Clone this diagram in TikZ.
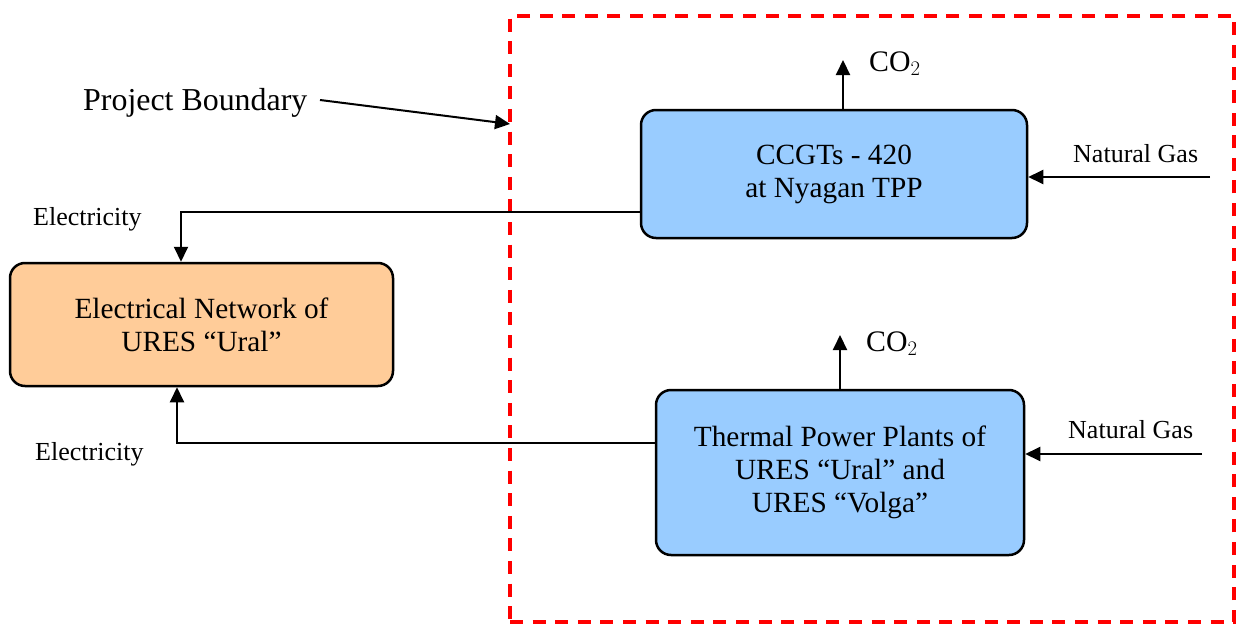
\documentclass[tikz,border=0pt]{standalone}
\usepackage{fontspec}
\setmainfont{Liberation Serif}
\usetikzlibrary{arrows.meta}
\begin{document}
\begin{tikzpicture}[x=1pt,y=-1pt,
  box/.style={draw=black,line width=2.5pt,rounded corners=15pt,align=center,
    font=\fontsize{29.3}{33}\selectfont,inner sep=0pt},
  blue box/.style={box,fill=bluefill},
  orange box/.style={box,fill=orangefill},
  conn/.style={line width=2pt,-{Triangle[length=15pt,width=14pt]}},
  lbl/.style={font=\fontsize{26}{30}\selectfont,inner sep=0pt},
  biglbl/.style={font=\fontsize{29.8}{33}\selectfont,inner sep=0pt},
  pblbl/.style={font=\fontsize{31.9}{35}\selectfont,inner sep=0pt},
  boundary/.style={draw=red,line width=4pt,dash pattern=on 13pt off 9.6pt}]
\definecolor{bluefill}{RGB}{153,204,255}
\definecolor{orangefill}{RGB}{255,204,153}
\useasboundingbox (0,0) rectangle (1236,626);
% project boundary
\node[boundary,minimum width=724pt,minimum height=606pt,inner sep=0pt] (bnd) at (872,319) {};
% boxes
\node[blue box,minimum width=386pt,minimum height=128pt] (ccgt) at (834,174) {CCGTs - 420\\at Nyagan TPP};
\node[blue box,minimum width=368pt,minimum height=165pt] (tpp) at (840,472.5) {Thermal Power Plants of\\URES “Ural” and\\URES “Volga”};
\node[orange box,minimum width=383pt,minimum height=123pt] (net) at (201.5,324.5) {Electrical Network of\\URES “Ural”};
% labels
\node[pblbl,anchor=base west] (pb) at (83,110) {Project Boundary};
\node[lbl,anchor=base west] (el1) at (33,225) {Electricity};
\node[lbl,anchor=base west] (el2) at (35,460) {Electricity};
\node[lbl,anchor=base west] (ng1) at (1073,162) {Natural Gas};
\node[lbl,anchor=base west] (ng2) at (1068,438) {Natural Gas};
\node[biglbl,anchor=base west] (co1) at (869,71) {CO$_2$};
\node[biglbl,anchor=base west] (co2) at (866,351) {CO$_2$};
% coordinates
\coordinate (pbtip) at (510,124);
\coordinate (pbstart) at (320,100);
\coordinate (ngs1) at (1210,177);
\coordinate (ngs2) at (1202,454);
\coordinate (cot1) at (843,60);
\coordinate (cot2) at (840,335);
% connectors
\draw[conn] (pbstart) -- (pbtip);
\draw[conn] ([yshift=-38pt]ccgt.west) -| ([xshift=-20.5pt]net.north);
\draw[conn] ([yshift=29.5pt]tpp.west) -| ([xshift=-24.5pt]net.south);
\draw[conn] (ngs1) -- (ngs1 -| ccgt.east);
\draw[conn] (ngs2) -- (ngs2 -| tpp.east);
\draw[conn] (cot1 |- ccgt.north) -- (cot1);
\draw[conn] (cot2 |- tpp.north) -- (cot2);
\end{tikzpicture}
\end{document}
